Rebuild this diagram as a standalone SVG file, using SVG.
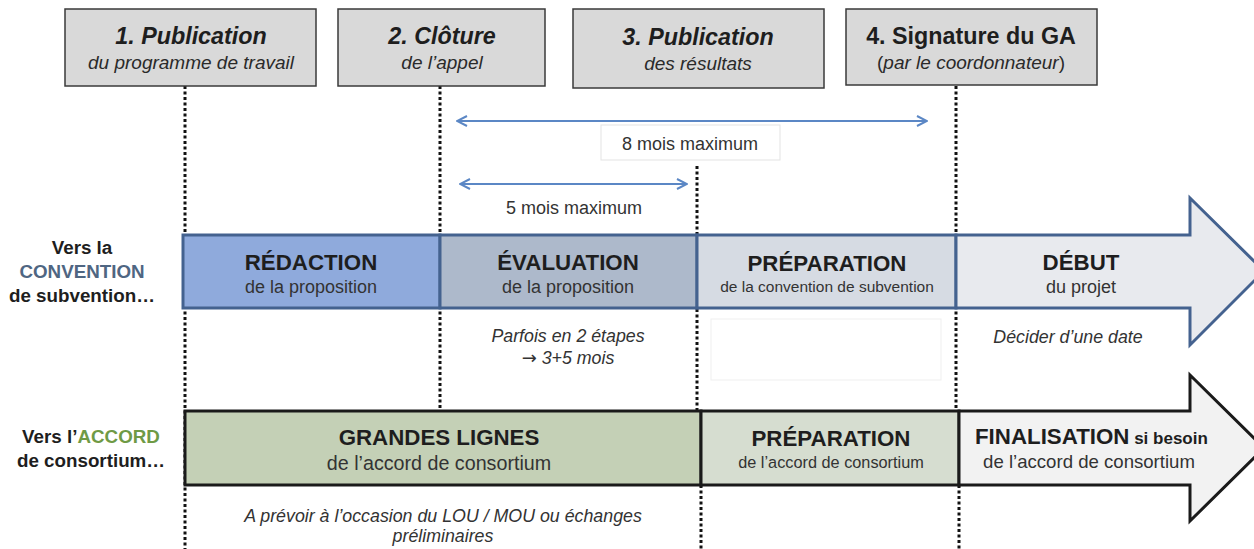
<svg xmlns="http://www.w3.org/2000/svg" width="1254" height="549" viewBox="0 0 1254 549">
<style>
text{font-family:"Liberation Sans",Arial,sans-serif;fill:#1e1e1e;text-anchor:middle}
.box{fill:#d9d9d9;stroke:#3a3a3a;stroke-width:1.5}
.t{font-size:23.3px;font-weight:bold;font-style:italic}
.s{font-size:19px;font-style:italic;fill:#2a2a2a}
.dot{stroke:#111;stroke-width:3;stroke-dasharray:3 2.5;fill:none}
.blue{stroke:#5b87c5;stroke-width:2;fill:none}
.bt{font-size:22.3px;font-weight:bold}
.bs{font-size:18px;fill:#333}
.lbl{font-size:18.8px;font-weight:bold}
.note{font-size:17.8px;font-style:italic;fill:#333}
.mois{font-size:18px;fill:#333}
.top{stroke:#44628f;stroke-width:3}
.bot{stroke:#1a1a1a;stroke-width:3}
</style>
<defs>
<marker id="ch" viewBox="0 0 12 12" refX="11" refY="6" markerWidth="12" markerHeight="12" markerUnits="userSpaceOnUse" orient="auto-start-reverse">
<path d="M1,1 L11,6 L1,11" fill="none" stroke="#5b87c5" stroke-width="2"/>
</marker>
</defs>
<rect width="1254" height="549" fill="#fff"/>
<g id="connectors">
<line class="dot" x1="185" y1="86" x2="185" y2="549"/>
<line class="dot" x1="440" y1="86" x2="440" y2="411"/>
<line class="dot" x1="697" y1="166" x2="697" y2="411"/>
<line class="dot" x1="701" y1="485" x2="701" y2="549"/>
<line class="dot" x1="956" y1="86" x2="956" y2="411"/>
<line class="dot" x1="959" y1="485" x2="959" y2="549"/>
<line class="blue" x1="457" y1="121" x2="927" y2="121" marker-start="url(#ch)" marker-end="url(#ch)"/>
<line class="blue" x1="460" y1="184" x2="687" y2="184" marker-start="url(#ch)" marker-end="url(#ch)"/>
</g>
<g id="m1"><rect class="box" x="65" y="9" width="251" height="77"/><text class="t" x="191" y="44">1. Publication</text><text class="s" x="191" y="69">du programme de travail</text></g>
<g id="m2"><rect class="box" x="338" y="9" width="207" height="77"/><text class="t" x="442" y="44">2. Clôture</text><text class="s" x="442" y="69">de l’appel</text></g>
<g id="m3"><rect class="box" x="573" y="9" width="251" height="79"/><text class="t" x="698" y="45">3. Publication</text><text class="s" x="698" y="70">des résultats</text></g>
<g id="m4"><rect class="box" x="846" y="9" width="251" height="76"/><text class="t" x="971" y="44" style="font-style:normal">4. Signature du GA</text><text class="s" x="971" y="69" style="font-style:normal">(<tspan style="font-style:italic">par le coordonnateur</tspan>)</text></g>
<g id="lbl8"><rect x="601" y="125" width="179" height="35" fill="#fff" stroke="#e3e3e3"/><text class="mois" x="690" y="150">8 mois maximum</text></g>
<g id="lbl5"><text class="mois" x="574" y="214">5 mois maximum</text></g>
<g id="rowlabel1"><text class="lbl" x="82" y="254">Vers la</text><text class="lbl" x="82" y="278" style="fill:#4f6682">CONVENTION</text><text class="lbl" x="82" y="302">de subvention…</text></g>
<g id="redaction"><rect class="top" x="183" y="235" width="257" height="73" fill="#8faadc"/><text class="bt" x="311" y="270">RÉDACTION</text><text class="bs" x="311" y="293">de la proposition</text></g>
<g id="evaluation"><rect class="top" x="440" y="235" width="257" height="73" fill="#adb9cb"/><text class="bt" x="568" y="270">ÉVALUATION</text><text class="bs" x="568" y="293">de la proposition</text></g>
<g id="preparation1"><rect class="top" x="697" y="235" width="259" height="73" fill="#d6dbe3"/><text class="bt" x="827" y="271">PRÉPARATION</text><text class="bs" x="827" y="292" style="font-size:15.5px">de la convention de subvention</text></g>
<g id="debut"><path class="top" d="M956,235 H1190 V198 L1264,271 L1190,345 V308 H956 Z" fill="#e8eaee"/><text class="bt" x="1081" y="270">DÉBUT</text><text class="bs" x="1081" y="293">du projet</text></g>
<g id="note1"><text class="note" x="568" y="342">Parfois en 2 étapes</text><text class="note" x="568" y="364"><tspan style="font-family:'DejaVu Sans',sans-serif;font-style:normal;font-size:18px">→</tspan> 3+5 mois</text></g>
<g id="blank"><rect x="711" y="319" width="230" height="61" fill="#fff" stroke="#efefef"/></g>
<g id="note2"><text class="note" x="1068" y="343">Décider d’une date</text></g>
<g id="rowlabel2"><text class="lbl" x="91" y="443">Vers l’<tspan style="fill:#6f9a45">ACCORD</tspan></text><text class="lbl" x="91" y="467">de consortium…</text></g>
<g id="grandes"><rect class="bot" x="185" y="411" width="516" height="74" fill="#c4d0b6"/><text class="bt" x="439" y="445">GRANDES LIGNES</text><text class="bs" x="439" y="470" style="font-size:19.7px">de l’accord de consortium</text></g>
<g id="preparation2"><rect class="bot" x="701" y="411" width="258" height="74" fill="#d6ddd0"/><text class="bt" x="831" y="446">PRÉPARATION</text><text class="bs" x="831" y="468" style="font-size:16.3px">de l’accord de consortium</text></g>
<g id="finalisation"><path class="bot" d="M959,411 H1190 V375 L1264,448 L1190,521 V485 H959 Z" fill="#f2f2f2"/><text class="bt" x="975" y="444" style="text-anchor:start">FINALISATION<tspan style="font-size:17px"> si besoin</tspan></text><text class="bs" x="1089" y="468" style="font-size:18.6px">de l’accord de consortium</text></g>
<g id="note3"><text class="note" x="443" y="522">A prévoir à l’occasion du LOU / MOU ou échanges</text><text class="note" x="443" y="542">préliminaires</text></g>
</svg>
